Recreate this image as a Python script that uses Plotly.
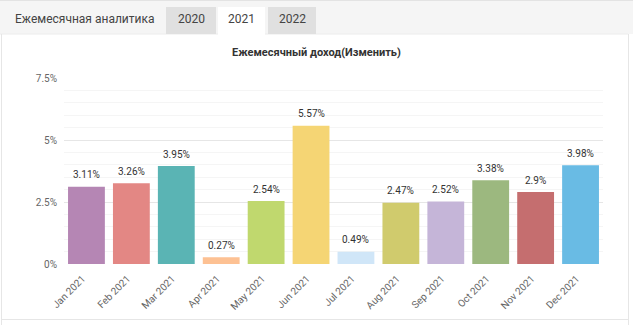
import plotly.graph_objects as go

months = ["Jan 2021", "Feb 2021", "Mar 2021", "Apr 2021", "May 2021", "Jun 2021",
          "Jul 2021", "Aug 2021", "Sep 2021", "Oct 2021", "Nov 2021", "Dec 2021"]
values = [3.11, 3.26, 3.95, 0.27, 2.54, 5.57, 0.49, 2.47, 2.52, 3.38, 2.9, 3.98]
labels = ["3.11%", "3.26%", "3.95%", "0.27%", "2.54%", "5.57%", "0.49%", "2.47%",
          "2.52%", "3.38%", "2.9%", "3.98%"]
colors = ["#b586b4", "#e38784", "#5ab4b4", "#fdc193", "#c0d86e", "#f5d574",
          "#d0e6f8", "#d0cb6d", "#c5b5d8", "#9cb87f", "#c56e6f", "#69bbe4"]
y_ticks = [0, 2.5, 5, 7.5]
y_tick_text = ["0%", "2.5%", "5%", "7.5%"]
tabs = ["2020", "2021", "2022"]

W, H = 633, 325
L, R, T, B = 64, 603, 78, 264


def px(x):
    return (x - L) / (R - L)


def py(y):
    return (B - y) / (B - T)


fig = go.Figure(go.Bar(x=months, y=values, marker=dict(color=colors, line=dict(width=0)),
                       hoverinfo="skip"))

shapes = []
# tab bar background
shapes.append(dict(type="rect", xref="paper", yref="paper", x0=px(0), x1=px(W), y0=py(34), y1=py(1),
                   fillcolor="#f5f5f5", line=dict(width=0), layer="below"))
shapes.append(dict(type="line", xref="paper", yref="paper", x0=px(0), x1=px(W), y0=py(0.5), y1=py(0.5),
                   line=dict(color="#e3e3e3", width=1)))
shapes.append(dict(type="line", xref="paper", yref="paper", x0=px(0), x1=px(628), y0=py(34), y1=py(34),
                   line=dict(color="#ececec", width=1)))
# tabs
tab_x = [(166, 216, "#e0e0e0"), (218, 265, "#ffffff"), (268, 316, "#e0e0e0")]
for (a, b, c) in tab_x:
    shapes.append(dict(type="rect", xref="paper", yref="paper", x0=px(a), x1=px(b),
                       y0=py(35 if c == "#ffffff" else 34), y1=py(7),
                       fillcolor=c, line=dict(width=0)))
# panel borders
shapes.append(dict(type="line", xref="paper", yref="paper", x0=px(1.5), x1=px(1.5), y0=py(34), y1=py(H),
                   line=dict(color="#e6e6e6", width=1)))
shapes.append(dict(type="line", xref="paper", yref="paper", x0=px(628.5), x1=px(628.5), y0=py(34), y1=py(H),
                   line=dict(color="#e6e6e6", width=1)))
shapes.append(dict(type="line", xref="paper", yref="paper", x0=px(1.5), x1=px(628.5), y0=py(319.5), y1=py(319.5),
                   line=dict(color="#e6e6e6", width=1)))

annotations = []
annotations.append(dict(xref="paper", yref="paper", x=px(13), y=py(19), xanchor="left", yanchor="middle",
                        text="Ежемесячная аналитика", showarrow=False,
                        font=dict(size=12, color="#444444", family="Roboto")))
for (a, b, c), t in zip(tab_x, tabs):
    annotations.append(dict(xref="paper", yref="paper", x=px((a + b) / 2), y=py(19), xanchor="center",
                            yanchor="middle", text=t, showarrow=False,
                            font=dict(size=12, color="#444444", family="Roboto")))
annotations.append(dict(xref="paper", yref="paper", x=px(316), y=py(53), xanchor="center", yanchor="middle",
                        text="<b>Ежемесячный доход(Изменить)</b>", showarrow=False,
                        font=dict(size=11, color="#333333", family="Roboto")))
for m, v, lab in zip(months, values, labels):
    annotations.append(dict(x=m, y=v, xref="x", yref="y", text=lab, showarrow=False, yanchor="middle",
                            yshift=12, font=dict(size=10, color="#333333", family="Roboto")))

fig.update_layout(
    width=W, height=H,
    margin=dict(l=L, r=W - R, t=T, b=H - B, pad=0),
    paper_bgcolor="white", plot_bgcolor="white",
    bargap=0.18,
    showlegend=False,
    shapes=shapes,
    annotations=annotations,
    font=dict(family="Roboto"),
    xaxis=dict(tickangle=-45, tickfont=dict(size=10, color="#666666"), showgrid=False,
               showline=False, ticks="", zeroline=False, ticklabelshift=-4, ticklabelstandoff=6),
    yaxis=dict(range=[0, 7.5], tickvals=y_ticks, ticktext=y_tick_text,
               tickfont=dict(size=10, color="#666666"), showgrid=True, gridcolor="#e6e6e6",
               gridwidth=1, zeroline=False, showline=False, ticks="", ticklabelstandoff=6,
               minor=dict(dtick=0.5, tick0=0, showgrid=True, gridcolor="#f5f5f5", gridwidth=1)),
)

fig.write_html("out.html")
